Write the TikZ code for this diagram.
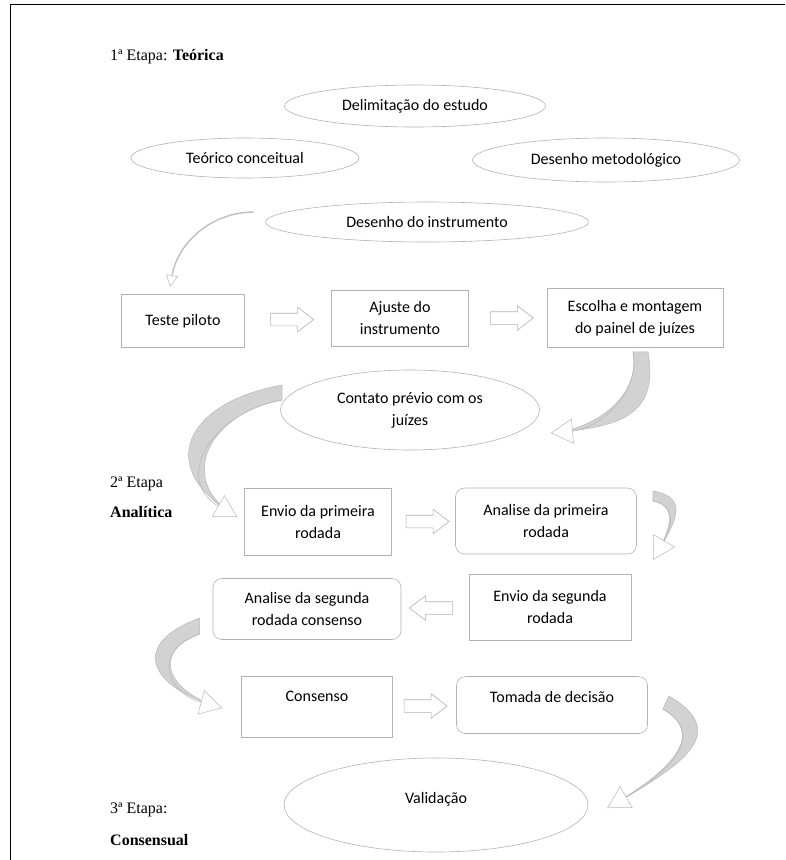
\documentclass[tikz,border=0pt]{standalone}
\usepackage{fontspec}
\setmainfont{Liberation Serif}
\newfontfamily\calibri{Carlito}
\usetikzlibrary{shapes.geometric, shapes.arrows, arrows.meta, positioning, calc}

\begin{document}
\begin{tikzpicture}[x=1pt, y=1pt,
		texto/.style={font=\calibri\fontsize{16}{22}\selectfont, align=center, inner sep=0pt},
		caixa/.style={texto, draw=gray!60, line width=.6pt},
		caixar/.style={caixa, rounded corners=9pt},
		elipse/.style={texto, ellipse, draw=gray!60, line width=.6pt},
		etapa/.style={font=\fontsize{16}{19}\selectfont, anchor=base west, inner sep=0pt},
		seta/.style={single arrow, draw=gray!60, fill=white, line width=.6pt, minimum height=43pt, inner sep=6pt, single arrow head extend=6pt, single arrow tip angle=75},
		corpo/.style={fill=gray!35, draw=gray!55, line width=.5pt},
		ponta/.style={draw=gray!55, line width=.5pt, -{Triangle[fill=white, length=22pt, width=25pt]}},
		fina/.style={draw=gray!50, line width=1.4pt, -{Triangle[fill=white, length=12pt, width=12pt, line width=.6pt]}}]
	\useasboundingbox (0,0) rectangle (785,-860);
	\draw[line width=1.8pt] (785,-4.5) -- (10.5,-4.5) -- (10.5,-860);

	\node[etapa] (et1) at (110,-60) {1ª Etapa: \textbf{Teórica}};
	\node[etapa] (et2) at (110,-487) {2ª Etapa};
	\node[etapa] (et2b) at (110,-517) {\textbf{Analítica}};
	\node[etapa] (et3) at (110,-813) {3ª Etapa:};
	\node[etapa] (et3b) at (110,-845) {\textbf{Consensual}};

	\node[elipse, minimum width=261pt, minimum height=42pt] (delim) at (415,-106) {Delimitação do estudo};
	\node[elipse, minimum width=228pt, minimum height=40pt] (teorico) at (245,-158) {Teórico conceitual};
	\node[elipse, minimum width=267pt, minimum height=44pt] (metodo) at (606,-160) {Desenho metodológico};
	\node[elipse, minimum width=323pt, minimum height=40pt] (instr) at (427,-222) {Desenho do instrumento};

	\node[caixa, minimum width=123pt, minimum height=53pt] (teste) at (183,-321) {Teste piloto};
	\node[caixa, minimum width=137pt, minimum height=56pt] (ajuste) at (400,-318) {Ajuste do\\instrumento};
	\node[caixa, minimum width=176pt, minimum height=59pt] (escolha) at (635,-318) {Escolha e montagem\\do painel de juízes};
	\node[elipse, minimum width=259pt, minimum height=80pt] (contato) at (410,-410) {Contato prévio com os\\juízes};

	\node[caixa, minimum width=147pt, minimum height=67pt] (envio1) at (318,-522) {Envio da primeira\\rodada};
	\node[caixar, minimum width=181pt, minimum height=66pt] (analise1) at (546,-521) {Analise da primeira\\rodada};
	\node[caixa, minimum width=162pt, minimum height=66pt] (envio2) at (550,-607) {Envio da segunda\\rodada};
	\node[caixar, minimum width=188pt, minimum height=61pt] (analise2) at (307,-609) {Analise da segunda\\rodada consenso};
	\node[caixa, minimum width=151pt, minimum height=61pt] (consenso) at (317,-707) {Consenso\\~};
	\node[caixar, minimum width=191pt, minimum height=57pt] (tomada) at (552,-705) {Tomada de decisão\\[-6pt]~};
	\node[elipse, minimum width=304pt, minimum height=94pt] (valid) at (436,-805) {Validação\\[-8pt]~};

	\path (teste.east) -- node[seta] (s1) {} (ajuste.west);
	\path (ajuste.east) -- node[seta] (s2) {} (escolha.west);
	\path (envio1.east) -- node[seta] (s3) {} (analise1.west);
	\path (envio2.west) -- node[seta, shape border rotate=180] (s4) {} (analise2.east);
	\path (consenso.east) -- node[seta, xshift=-3pt] (s5) {} (tomada.west);

	\coordinate (a0) at ([shift={(-11,10)}]instr.west);
	\coordinate (a1) at ([shift={(-13,7)}]teste.north);
	\coordinate (b0) at ([shift={(5,-4)}]escolha.south);
	\coordinate (b1) at ([shift={(11,-23)}]contato.east);
	\coordinate (c0) at ([shift={(2,17)}]contato.west);
	\coordinate (c1) at ([shift={(-7,5)}]envio1.west);
	\coordinate (d0) at ([shift={(16,25)}]analise1.east);
	\coordinate (d1) at ([shift={(22,14)}]envio2.north east);
	\coordinate (e0) at ([shift={(-13,-17)}]analise2.west);
	\coordinate (e1) at ([shift={(-19,-1)}]consenso.west);
	\coordinate (f0) at ([shift={(18,2)}]tomada.east);
	\coordinate (f1) at ([shift={(19,-3)}]valid.east);

	\draw[fina] (a0) to[out=180, in=80] (a1);

	\filldraw[corpo] ($(b0)+(-7,0)$) to[out=-80, in=5] (b1) to[out=5, in=-80, looseness=1.35] ($(b0)+(8,0)$) -- cycle;
	\draw[ponta] ($(b0)+(-7,0)$) to[out=-80, in=5] (b1);
	\filldraw[corpo] ($(c0)+(0,-7)$) to[out=190, in=150, looseness=1.5] (c1) to[out=150, in=190, looseness=1.8] ($(c0)+(0,8)$) -- cycle;
	\draw[ponta] ($(c0)+(0,-7)$) to[out=190, in=150, looseness=1.5] (c1);
	\filldraw[corpo] ($(d0)+(0,-5)$) to[out=-10, in=60, looseness=1.25] (d1) to[out=60, in=-10, looseness=1.5] ($(d0)+(0,5)$) -- cycle;
	\draw[ponta] ($(d0)+(0,-5)$) to[out=-10, in=60, looseness=1.25] (d1);
	\filldraw[corpo] ($(e0)+(0,-8)$) to[out=200, in=165, looseness=1.8] (e1) to[out=165, in=200, looseness=2.1] ($(e0)+(0,8)$) -- cycle;
	\draw[ponta] ($(e0)+(0,-8)$) to[out=200, in=165, looseness=1.8] (e1);
	\filldraw[corpo] ($(f0)+(-3,-6)$) to[out=-30, in=30, looseness=1.3] (f1) to[out=30, in=-30, looseness=1.55] ($(f0)+(3,7)$) -- cycle;
	\draw[ponta] ($(f0)+(-3,-6)$) to[out=-30, in=30, looseness=1.3] (f1);
\end{tikzpicture}
\end{document}
